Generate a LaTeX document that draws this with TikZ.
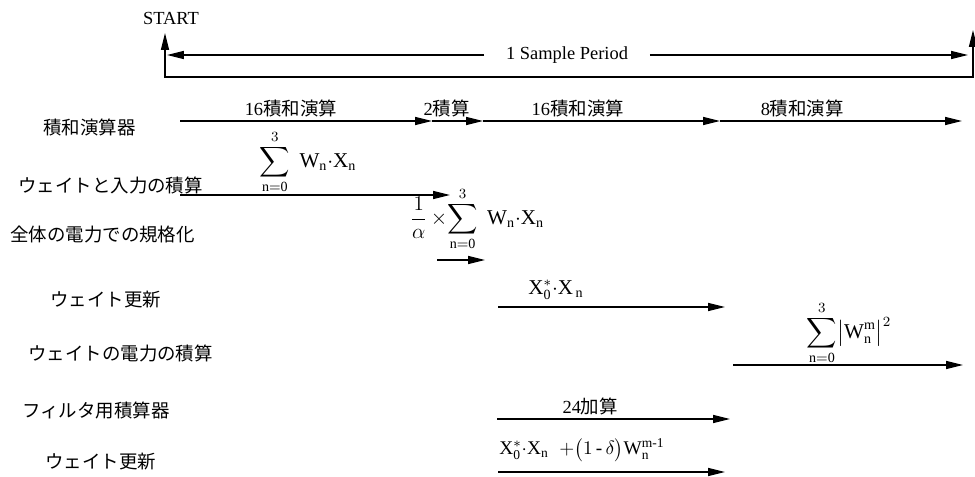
\documentclass[tikz,border=0pt]{standalone}
\usepackage{amsmath}
\usepackage{fontspec}
\setmainfont{Liberation Serif}
\newfontfamily\jpfont{Noto Sans CJK JP}
\usetikzlibrary{arrows.meta,positioning}
\tikzset{
  rowlbl/.style={anchor=west,inner sep=0pt,
    font=\jpfont\fontsize{10.5}{12}\selectfont},
  oplbl/.style={inner sep=1pt,
    font=\fontsize{10.5}{12}\selectfont},
  eqlbl/.style={inner sep=0pt,
    font=\fontsize{12}{14}\selectfont},
  eqsmall/.style={inner sep=0pt,
    font=\fontsize{11}{13}\selectfont},
  arr/.style={-{Triangle[length=0.34cm,width=0.16cm]},line width=0.8pt},
  twoarr/.style={{Triangle[length=0.34cm,width=0.16cm]}-{Triangle[length=0.34cm,width=0.16cm]},
    line width=0.8pt},
}

\begin{document}
\begin{tikzpicture}[x=0.02cm,y=-0.02cm]
  \useasboundingbox (0,0) rectangle (975,477);

  % sample period bracket
  \node (start) [inner sep=0pt,font=\fontsize{10.5}{12}\selectfont] at (171,18) {START};
  \coordinate (pbl) at (165,77);
  \coordinate (pbt) at (165,33);
  \coordinate (pbr) at (973,77);
  \coordinate (prt) at (973,30);
  \draw[twoarr] (pbt) -- (pbl) -- (pbr) -- (prt);

  \node (period) [inner sep=0pt,minimum width=3.3cm,
    font=\fontsize{10.5}{12}\selectfont] at (567,55) {1 Sample Period};
  \coordinate (ptl) at (167,55);
  \coordinate (ptr) at (968,55);
  \draw[arr] (period.west) -- (ptl);
  \draw[arr] (period.east) -- (ptr);

  % row labels
  \node (lmac)   [rowlbl] at (43,127)  {積和演算器};
  \node (lwx)    [rowlbl] at (18,185)  {ウェイトと入力の積算};
  \node (lnorm)  [rowlbl] at (10,235)  {全体の電力での規格化};
  \node (lupd)   [rowlbl] at (50,300)  {ウェイト更新};
  \node (lpow)   [rowlbl] at (28,353)  {ウェイトの電力の積算};
  \node (lfilt)  [rowlbl] at (22,410)  {フィルタ用積算器};
  \node (lupdb)  [rowlbl] at (45,462)  {ウェイト更新};

  % MAC unit timeline
  \coordinate (m0) at (180,121);
  \coordinate (m1) at (432,121);
  \coordinate (m2) at (483,121);
  \coordinate (m3) at (720,121);
  \coordinate (m4) at (962,121);
  \draw[arr] (m0) -- node[oplbl,above=1pt,pos=0.44]{16{\jpfont 積和演算}} (m1);
  \draw[arr] (m1) -- node[oplbl,above=1pt,pos=0.29]{2{\jpfont 積算}} (m2);
  \draw[arr] (m2) -- node[oplbl,above=1pt,pos=0.40]{16{\jpfont 積和演算}} (m3);
  \draw[arr] (m3) -- node[oplbl,above=1pt,pos=0.34]{8{\jpfont 積和演算}} (m4);

  % weight x input
  \coordinate (w0) at (180,195);
  \coordinate (w1) at (450,195);
  \draw[arr] (w0) -- (w1);
  \node (eqwx) [eqlbl] at (308,162)
    {$\displaystyle\sum_{\mathrm{n=0}}^{3}\;\mathrm{W_n{\cdot}X_n}$};

  % normalisation
  \coordinate (n0) at (437,260);
  \coordinate (n1) at (485,260);
  \draw[arr] (n0) -- (n1);
  \node (eqnorm) [eqlbl] at (477,219)
    {$\displaystyle\frac{1}{\alpha}\,{\times}\!\sum_{\mathrm{n=0}}^{3}\;\mathrm{W_n{\cdot}X_n}$};

  % weight update
  \coordinate (u0) at (498,307);
  \coordinate (u1) at (725,307);
  \draw[arr] (u0) -- (u1);
  \node (equpd) [eqlbl] at (556,290) {$\mathrm{X_0^{*}{\cdot}X_{\,n}}$};

  % weight power
  \coordinate (p0) at (733,365);
  \coordinate (p1) at (963,365);
  \draw[arr] (p0) -- (p1);
  \node (eqpow) [eqlbl] at (849,333)
    {$\displaystyle\sum_{\mathrm{n=0}}^{3}\bigl|\mathrm{W_n^m}\bigr|^2$};

  % filter accumulator
  \coordinate (f0) at (497,419);
  \coordinate (f1) at (730,419);
  \draw[arr] (f0) -- node[oplbl,above=1pt,pos=0.40]{24{\jpfont 加算}} (f1);

  % weight update (filter)
  \coordinate (v0) at (498,472);
  \coordinate (v1) at (725,472);
  \draw[arr] (v0) -- (v1);
  \node (equpdb) [eqsmall] at (582,450)
    {$\mathrm{X_0^{*}{\cdot}X_n}\;\;{+}\bigl(1\,\text{-}\,\delta\bigr)\mathrm{W_n^{m\text{-}1}}$};

\end{tikzpicture}
\end{document}
